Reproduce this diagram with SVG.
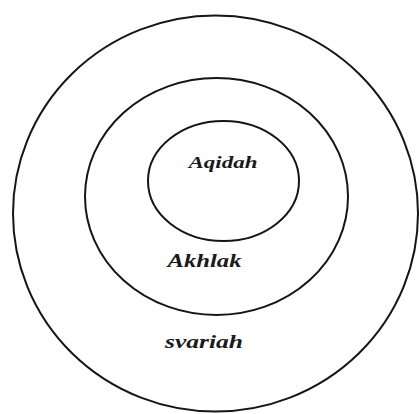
<svg xmlns="http://www.w3.org/2000/svg" width="419" height="414" viewBox="0 0 419 414">
<style>
.ring{fill:none;stroke:#151515;stroke-width:2}
.lbl{font-family:"Liberation Serif","DejaVu Serif",serif;font-style:italic;font-weight:bold;fill:#1a1a1a;text-anchor:middle}
</style>
<rect width="419" height="414" fill="#ffffff"/>
<g id="syariah">
<ellipse class="ring" cx="215.5" cy="213.5" rx="202.5" ry="198"/>
<text class="lbl" x="204" y="348" font-size="19" textLength="78" lengthAdjust="spacingAndGlyphs">svariah</text>
</g>
<g id="akhlak">
<ellipse class="ring" cx="216.5" cy="196.5" rx="131.5" ry="118.5"/>
<text class="lbl" x="204.5" y="267" font-size="19" textLength="74" lengthAdjust="spacingAndGlyphs">Akhlak</text>
</g>
<g id="aqidah">
<ellipse class="ring" cx="223.5" cy="181" rx="75.5" ry="60"/>
<text class="lbl" x="223" y="168" font-size="16" textLength="69" lengthAdjust="spacingAndGlyphs">Aqidah</text>
</g>
<g id="connectors"/>
</svg>
